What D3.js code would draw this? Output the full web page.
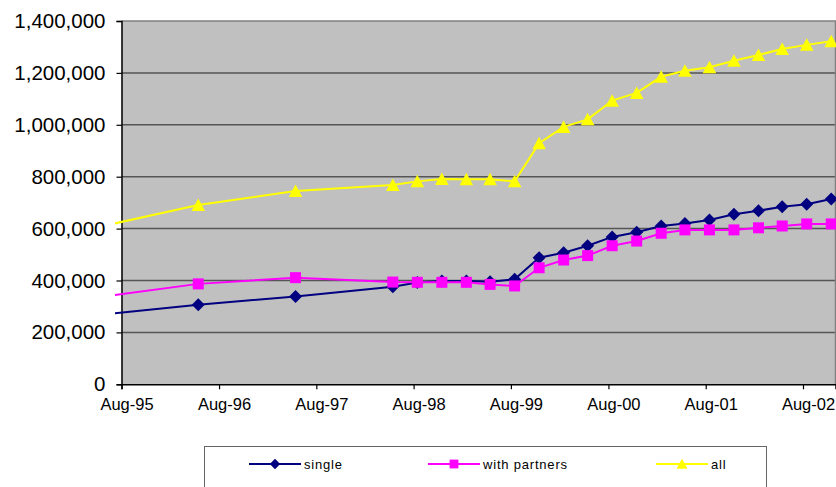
<!DOCTYPE html>
<html>
<head>
<meta charset="utf-8">
<script src="https://cdn.jsdelivr.net/npm/d3@7"></script>
<style>
  html, body { margin: 0; padding: 0; background: #fff; }
  svg { display: block; font-family: "Liberation Sans", Arial, sans-serif; }
</style>
</head>
<body>
<svg id="chart" width="836" height="487"></svg>
<script>
// Observation dates (mid-month)
const dates = [
  "1995-05-15", "1996-05-15", "1997-05-15", "1998-05-15",
  "1998-08-15", "1998-11-15", "1999-02-15", "1999-05-15",
  "1999-08-15", "1999-11-15", "2000-02-15", "2000-05-15",
  "2000-08-15", "2000-11-15", "2001-02-15", "2001-05-15",
  "2001-08-15", "2001-11-15", "2002-02-15", "2002-05-15",
  "2002-08-15", "2002-11-15"
];
const single = [
  268000, 307000, 338000, 376000, 392000, 398000, 398000, 395000,
  405000, 488000, 507000, 534000, 568000, 586000, 610000, 620000,
  633000, 655000, 669000, 684000, 694000, 714000
];
const withPartners = [
  337000, 387000, 411000, 394000, 393000, 393000, 393000, 385000,
  379000, 449000, 479000, 496000, 534000, 552000, 582000, 595000,
  595000, 595000, 603000, 610000, 618000, 618000
];
const all = [
  608000, 691000, 745000, 768000, 782000, 791000, 790000, 790000,
  782000, 929000, 992000, 1021000, 1093000, 1123000, 1185000, 1208000,
  1222000, 1247000, 1269000, 1292000, 1308000, 1322000
];
const seriesNames = ["single", "with partners", "all"];
const xTickLabels = ["Aug-95", "Aug-96", "Aug-97", "Aug-98", "Aug-99", "Aug-00", "Aug-01", "Aug-02"];
const yTickValues = [0, 200000, 400000, 600000, 800000, 1000000, 1200000, 1400000];

const parseDay = d3.timeParse("%Y-%m-%d");
const parseTick = d3.timeParse("%b-%y");

const svg = d3.select("#chart");
const plot = { left: 121.5, right: 835.5, top: 21, bottom: 384.3 };

const x = d3.scaleTime()
  .domain([new Date(1995, 7, 1), new Date(2002, 11, 1)])
  .range([plot.left, plot.right]);
const y = d3.scaleLinear()
  .domain([0, 1400000])
  .range([plot.bottom, plot.top]);

// plot background
svg.append("rect")
  .attr("x", plot.left).attr("y", plot.top)
  .attr("width", plot.right - plot.left).attr("height", plot.bottom - plot.top)
  .attr("fill", "#c0c0c0");

// horizontal gridlines
svg.append("g")
  .selectAll("line")
  .data(yTickValues.filter(v => v > 0 && v < 1400000))
  .join("line")
  .attr("x1", plot.left).attr("x2", plot.right)
  .attr("y1", d => y(d)).attr("y2", d => y(d))
  .attr("stroke", "#555").attr("stroke-width", 1.5);

// frame (top and right edges)
svg.append("path")
  .attr("d", `M${plot.left},${plot.top}H${plot.right}V${plot.bottom}`)
  .attr("fill", "none").attr("stroke", "#808080").attr("stroke-width", 1.5);

// y axis
const yAxis = svg.append("g")
  .attr("transform", `translate(${plot.left},0)`)
  .call(d3.axisLeft(y).tickValues(yTickValues).tickFormat(d3.format(",")).tickSize(5).tickPadding(11));
yAxis.select(".domain").attr("stroke", "#000").attr("stroke-width", 1.5);
yAxis.selectAll(".tick line").attr("stroke", "#000").attr("stroke-width", 1.2);
yAxis.selectAll("text")
  .attr("font-size", 20.5).attr("fill", "#000")
  .attr("font-family", "'Liberation Sans', Arial, sans-serif");

// x axis
const xAxis = svg.append("g")
  .attr("transform", `translate(0,${plot.bottom})`)
  .call(d3.axisBottom(x)
    .tickValues(xTickLabels.map(parseTick))
    .tickFormat(d3.timeFormat("%b-%y"))
    .tickSize(5).tickPadding(9));
xAxis.select(".domain").attr("stroke", "#000").attr("stroke-width", 1.5);
xAxis.selectAll(".tick line").attr("stroke", "#000").attr("stroke-width", 1.2);
xAxis.selectAll("text")
  .attr("font-size", 16.5).attr("fill", "#000").attr("dx", 5)
  .attr("font-family", "'Liberation Sans', Arial, sans-serif");

// clip for the series lines
svg.append("defs").append("clipPath").attr("id", "plotClip")
  .append("rect")
  .attr("x", 115).attr("y", 0)
  .attr("width", 836 - 115).attr("height", plot.bottom);

const series = [
  { name: seriesNames[0], values: single, color: "#000080", symbol: "diamond" },
  { name: seriesNames[1], values: withPartners, color: "#ff00ff", symbol: "square" },
  { name: seriesNames[2], values: all, color: "#ffff00", symbol: "triangle" }
];

const parsedDates = dates.map(parseDay);
const axisStart = x.domain()[0];

function markerPath(symbol) {
  if (symbol === "diamond") return "M0,-6.5L6.5,0L0,6.5L-6.5,0Z";
  if (symbol === "square") return "M-5.5,-5.5H5.5V5.5H-5.5Z";
  return "M0,-6.5L6.8,6L-6.8,6Z";
}

const line = d3.line().x(d => x(d.date)).y(d => y(d.value));

series.forEach(s => {
  const pts = parsedDates.map((d, i) => ({ date: d, value: s.values[i] }));
  const g = svg.append("g");
  g.append("path")
    .datum(pts)
    .attr("clip-path", "url(#plotClip)")
    .attr("d", line)
    .attr("fill", "none")
    .attr("stroke", s.color)
    .attr("stroke-width", 2);
  g.selectAll("path.marker")
    .data(pts.filter(p => p.date >= axisStart))
    .join("path")
    .attr("class", "marker")
    .attr("transform", p => `translate(${x(p.date)},${y(p.value)})`)
    .attr("d", markerPath(s.symbol))
    .attr("fill", s.color);
});

// legend
const legend = svg.append("g");
legend.append("rect")
  .attr("x", 204.5).attr("y", 446.5)
  .attr("width", 562).attr("height", 60)
  .attr("fill", "#fff").attr("stroke", "#666").attr("stroke-width", 1);

const legendX = [249, 428, 656];
series.forEach((s, i) => {
  const lg = legend.append("g").attr("transform", `translate(${legendX[i]},464)`);
  lg.append("line").attr("x1", 0).attr("x2", 52)
    .attr("stroke", s.color).attr("stroke-width", 2);
  lg.append("path")
    .attr("transform", "translate(26,0) scale(0.8)")
    .attr("d", markerPath(s.symbol))
    .attr("fill", s.color);
  lg.append("text")
    .attr("x", 55).attr("y", 0).attr("dy", "0.35em")
    .attr("font-size", 13).attr("letter-spacing", 0.8).attr("fill", "#000")
    .text(s.name);
});
</script>
</body>
</html>
